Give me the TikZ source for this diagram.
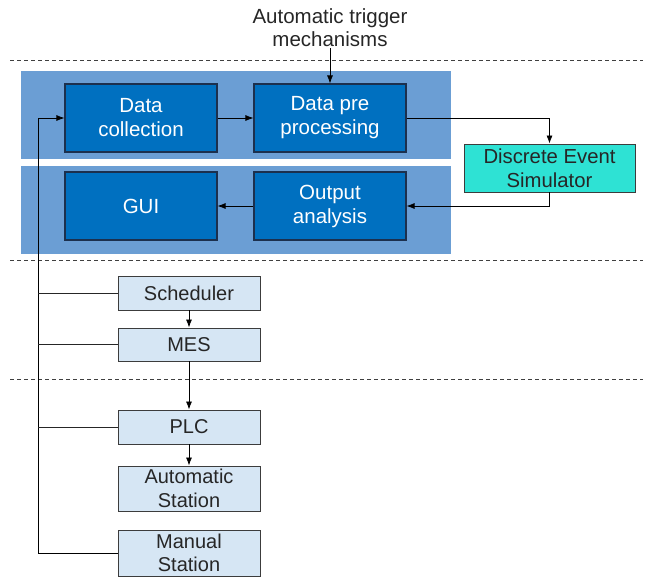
\documentclass[tikz,border=0pt]{standalone}
\usepackage{fontspec}
\setmainfont{Liberation Sans}
\usetikzlibrary{arrows.meta}
\definecolor{bandc}{RGB}{107,158,212}
\definecolor{darkbox}{RGB}{0,112,192}
\definecolor{darkedge}{RGB}{28,48,78}
\definecolor{desc}{RGB}{46,226,212}
\definecolor{lightbox}{RGB}{214,230,244}
\definecolor{lightedge}{RGB}{60,60,60}
\tikzset{
  bluebox/.style={draw=darkedge, line width=1.1pt, fill=darkbox, text=white, minimum width=152pt, minimum height=68pt, align=center, inner sep=0pt, font=\fontsize{20.5}{24}\selectfont},
  desbox/.style={draw=lightedge, line width=0.9pt, fill=desc, text=black!85, minimum width=171pt, minimum height=48pt, align=center, inner sep=0pt, font=\fontsize{20.3}{23.5}\selectfont},
  lowbox/.style={draw=lightedge, line width=0.9pt, fill=lightbox, text=black!85, minimum width=142pt, align=center, inner sep=0pt, font=\fontsize{20}{23.5}\selectfont},
  arr/.style={-{Latex[length=8pt,width=6pt]}, line width=0.8pt, black},
  ln/.style={line width=0.8pt, black!85},
  sep/.style={dashed, dash pattern=on 4pt off 3pt, line width=0.8pt, black!75},
  band/.style={fill=bandc, draw=none}
}
\begin{document}
\begin{tikzpicture}[x=1pt,y=-1pt]
\useasboundingbox (0,0) rectangle (647,579);
% separators
\draw[sep] (10,60) -- (643,60);
\draw[sep] (10,260) -- (643,260);
\draw[sep] (10,379) -- (643,379);
% bands
\fill[band] (21,71) rectangle (451,159);
\fill[band] (21,166) rectangle (451,254);
% nodes
\node[bluebox] (dc) at (141,118) {Data\\collection};
\node[bluebox] (dp) at (330,118) {Data pre\\processing};
\node[bluebox] (gui) at (141,206) {GUI};
\node[bluebox] (oa) at (330,206) {Output\\analysis};
\node[desbox] (des) at (549.5,168) {Discrete Event\\Simulator};
\node[align=center, font=\fontsize{20.5}{23}\selectfont, text=black!85, inner sep=1pt] (trig) at (330,28) {Automatic trigger\\mechanisms};
\node[lowbox, minimum height=34pt] (sch) at (189,293) {Scheduler};
\node[lowbox, minimum height=33pt] (mes) at (189,344.5) {MES};
\node[lowbox, minimum height=34pt] (plc) at (189,427) {PLC};
\node[lowbox, minimum height=45pt] (auto) at (189,488.5) {Automatic\\Station};
\node[lowbox, minimum height=46pt] (man) at (189,553) {Manual\\Station};
% connectors
\draw[arr] (trig.south) -- (dp.north);
\draw[arr] (dc.east) -- (dp.west);
\draw[arr] (dp.east) -| (des.north);
\draw[arr] (des.south) |- (oa.east);
\draw[arr] (oa.west) -- (gui.east);
\draw[arr] (sch.south) -- (mes.north);
\draw[arr] (mes.south) -- (plc.north);
\draw[arr] (plc.south) -- (auto.north);
\coordinate (tb) at (38,553);
\draw[arr] (man.west) -- (tb) |- (dc.west);
\draw[ln] (sch.west) -- (sch.west -| tb);
\draw[ln] (mes.west) -- (mes.west -| tb);
\draw[ln] (plc.west) -- (plc.west -| tb);
\end{tikzpicture}
\end{document}
